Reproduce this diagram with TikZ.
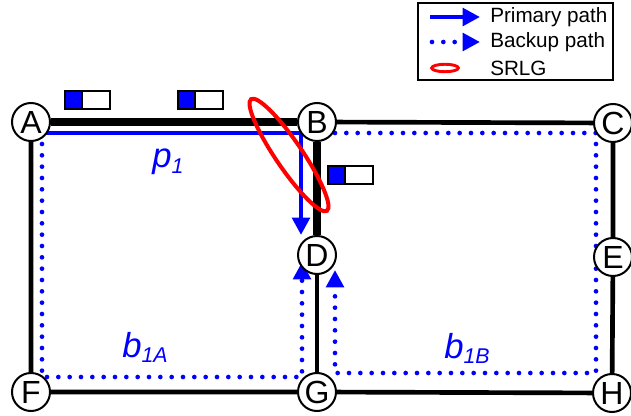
\documentclass[tikz,border=0pt]{standalone}
\usepackage{fontspec}
\setmainfont{Liberation Sans}
\usetikzlibrary{arrows.meta,positioning,backgrounds}
\definecolor{pathblue}{RGB}{0,0,255}
\definecolor{srlgred}{RGB}{255,0,0}
\tikzset{
  >={Triangle[length=13pt,width=13pt]},
  router/.style={circle,draw,line width=1.5pt,fill=white,inner sep=0pt,
    minimum size=28.5pt,font=\fontsize{24}{24}\selectfont},
  fiber/.style={line width=3.5pt},
  hot fiber/.style={line width=6.5pt},
  primary/.style={->,draw=pathblue,line width=3.5pt},
  backup/.style={->,draw=pathblue,line width=3.5pt,line cap=round,
    dash pattern=on 0pt off 8.5pt},
  srlg/.style={draw=srlgred,line width=3pt},
  plabel/.style={anchor=base west,inner sep=0pt,text=pathblue,
    font=\fontsize{26}{26}\selectfont\itshape},
  legtext/.style={anchor=west,inner sep=0pt,font=\fontsize{15.5}{15.5}\selectfont},
  % wavelength slot
  pics/slot/.style={code={
    \fill[pathblue] (0,0) rectangle (17,18);
    \draw[line width=1.2pt] (0,0) rectangle (45,18) (17,0) -- (17,18);
  }},
}
\newcommand{\subx}[1]{\raisebox{-4pt}{\fontsize{16}{16}\selectfont #1}}

\begin{document}
\begin{tikzpicture}[x=0.75pt,y=-0.75pt]
    \useasboundingbox (0,0) rectangle (631,416);
    \foreach \n/\x/\y in {A/31/122, B/317/122, C/613/123, D/317/255,
      E/613/257, F/31/392, G/317/392, H/612/393}
      \node[router] (\n) at (\x,\y) {\n};

    \begin{scope}[on background layer]
      \draw[hot fiber] (A) -- (B) -- (D);
      \draw[fiber] (B) -- (C) -- (E) -- (H) -- (G) -- (F) -- (A);
      \draw[fiber] (D) -- (G);
      % paths
      \draw[primary] ([shift={(8,11)}]A.center) -| ([shift={(-16,0)}]D.north);
      \draw[backup] ([shift={(11,22)}]A.center) |- ([shift={(-15,-15)}]G.center)
        -- ([shift={(-15,7)}]D.center);
      \draw[backup] ([shift={(18,11)}]B.center) -| ([shift={(-16,-20)}]H.center)
        -| ([shift={(18,15)}]D.center);
    \end{scope}

    \coordinate (srlgc) at (289,155);
    \draw[srlg,rotate around={-55.8:(srlgc)}] (srlgc) ellipse [x radius=50.6pt,y radius=10pt];

    \pic at (65,91) {slot};
    \pic at (178,91) {slot};
    \pic at (328,166) {slot};

    \node[plabel] (p1) at (152,168) {p\subx{1}};
    \node[plabel] (b1A) at (122,357) {b\subx{1A}};
    \node[plabel] (b1B) at (444,358) {b\subx{1B}};

    % legend
    \draw[line width=1.5pt] (418,3) rectangle (613,80);
    \coordinate (l1a) at (430,17);
    \coordinate (l1b) at (480,17);
    \coordinate (l2a) at (432,42);
    \coordinate (l2b) at (480,42);
    \coordinate (l3) at (445,68);
    \draw[primary] (l1a) -- (l1b);
    \draw[backup] (l2a) -- (l2b);
    \draw[srlg,line width=2.2pt] (l3) ellipse [x radius=10pt,y radius=2.8pt];
    \node[legtext] (lt1) at (490,17) {Primary path};
    \node[legtext] (lt2) at (490,42) {Backup path};
    \node[legtext] (lt3) at (490,68) {SRLG};
  \end{tikzpicture}
\end{document}
